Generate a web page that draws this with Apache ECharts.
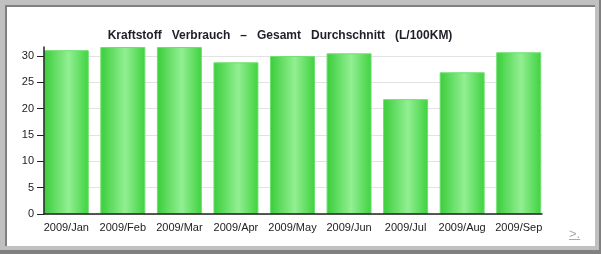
<!DOCTYPE html>
<html><head><meta charset="utf-8">
<script src="https://cdn.jsdelivr.net/npm/echarts@6/dist/echarts.min.js"></script>
<style>
html,body{margin:0;padding:0;}
#frame{position:absolute;left:0;top:0;width:599px;height:250px;background:#c0c0c0;border-right:2px solid #808080;border-bottom:4px solid #808080;}
#inner{position:absolute;left:5px;top:5px;width:588px;height:239px;background:#fff;border-top:2px solid #808080;border-left:2px solid #808080;}
#chart{position:absolute;left:0;top:0;width:601px;height:254px;}
#lnk{position:absolute;left:569px;top:226px;font:13px "Liberation Sans",Arial,sans-serif;color:#aaa;text-decoration:underline;}
</style></head>
<body>
<div id="frame"><div id="inner"></div></div>
<div id="chart"></div>
<div id="lnk">&gt;.</div>
<script>
const categories = ['2009/Jan','2009/Feb','2009/Mar','2009/Apr','2009/May','2009/Jun','2009/Jul','2009/Aug','2009/Sep'];
const values = [31.1, 31.7, 31.7, 28.8, 30.0, 30.5, 21.8, 26.9, 30.7];
const yTicks = [0, 5, 10, 15, 20, 25, 30];
const titleText = 'Kraftstoff   Verbrauch   –   Gesamt   Durchschnitt   (L/100KM)';

const font = 'Liberation Sans, Arial, sans-serif';
const yMax = 31.7;
const chart = echarts.init(document.getElementById('chart'), null, {renderer:'canvas'});
chart.setOption({
  backgroundColor: 'transparent',
  animation: false,
  title: {
    text: titleText,
    left: 275, top: 25, textAlign: 'center',
    textStyle: {fontFamily: font, fontSize: 12, fontWeight: 'bold', color: '#1f1f2a'}
  },
  grid: [
    {left: 38, right: 54, top: 47, bottom: 40},
    {left: 44, right: 59, top: 47, bottom: 40}
  ],
  xAxis: [{
    type: 'category', data: categories, gridIndex: 0,
    axisLine: {show: false},
    axisTick: {alignWithLabel: true, length: 4, lineStyle: {color: '#222'}},
    axisLabel: {interval: 0, margin: 8, fontFamily: font, fontSize: 11, color: '#222'}
  }, {
    type: 'category', data: [''], gridIndex: 1, z: 5,
    axisLine: {lineStyle: {color: '#222', width: 1.5}},
    axisTick: {show: false}, axisLabel: {show: false}
  }],
  yAxis: [{
    type: 'value', gridIndex: 0, min: 0, max: yMax, show: false, splitLine: {show: false}
  }, {
    type: 'value', gridIndex: 1, min: 0, max: yMax, interval: 5, z: 0,
    axisLine: {show: false}, axisTick: {show: false}, axisLabel: {show: false},
    splitLine: {show: true, lineStyle: {color: ['#e2e2e2','#e2e2e2','#e2e2e2','#e2e2e2','#e2e2e2','#e2e2e2','#e2e2e2','rgba(0,0,0,0)'], width: 1}}
  }, {
    type: 'value', gridIndex: 1, min: 0, max: yMax, interval: 5, z: 5, position: 'left', offset: 0,
    axisLine: {show: true, lineStyle: {color: '#222', width: 1.5}},
    axisTick: {show: true, length: 7, lineStyle: {color: '#222'}, customValues: yTicks},
    axisLabel: {margin: 10, fontFamily: font, fontSize: 11, color: '#222', customValues: yTicks},
    splitLine: {show: false}
  }],
  series: [{
    type: 'bar', data: values, xAxisIndex: 0, yAxisIndex: 0, barWidth: 45,
    itemStyle: {
      borderColor: '#6fe06f', borderWidth: 1,
      color: new echarts.graphic.LinearGradient(0, 0, 1, 0, [
        {offset: 0, color: '#3acd3a'},
        {offset: 0.55, color: '#92ef92'},
        {offset: 1, color: '#3fd23f'}
      ])
    }
  }]
});
</script>
</body></html>
